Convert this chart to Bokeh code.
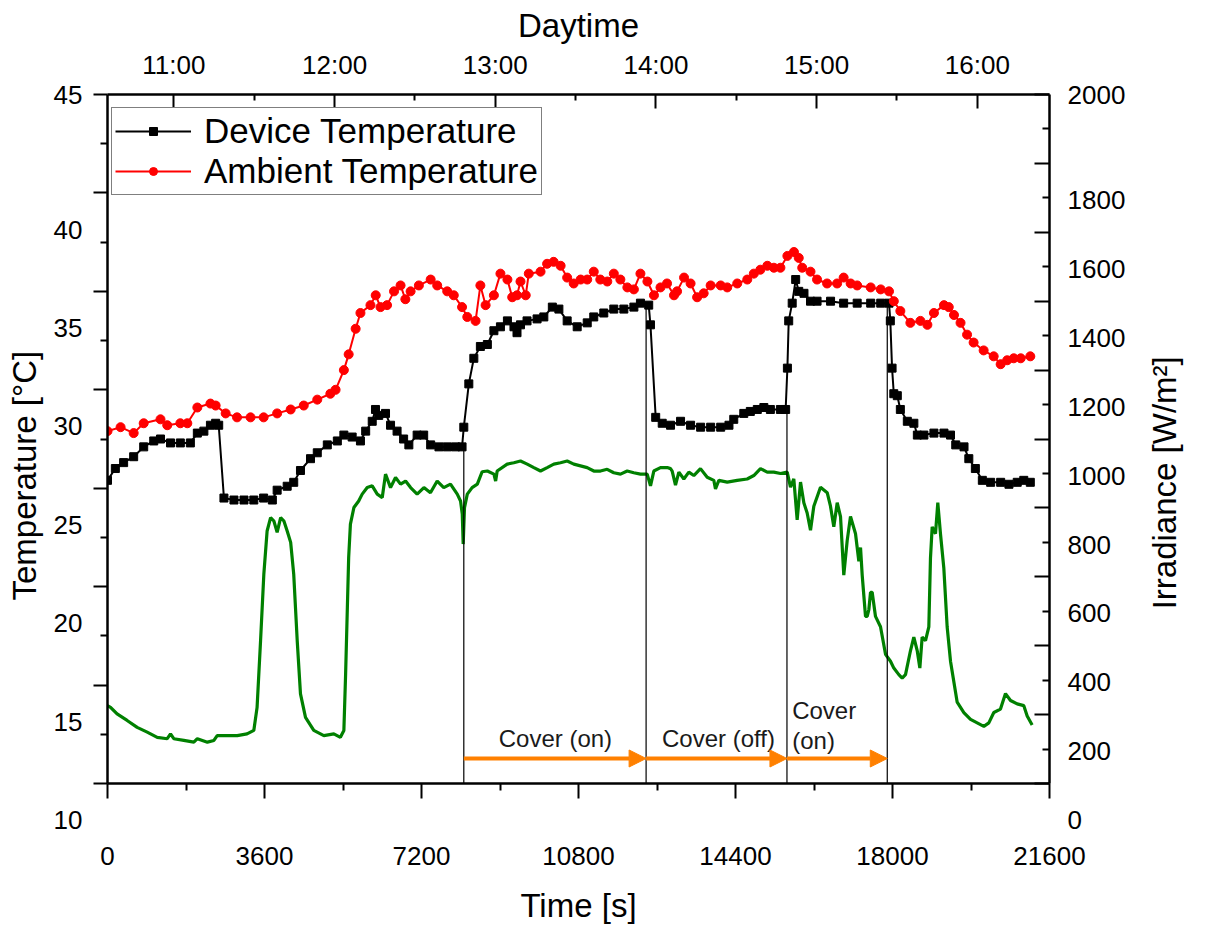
import math
from bokeh.plotting import figure
from bokeh.models import (Range1d, LinearAxis, FixedTicker, Legend, LegendItem,
                          Arrow, NormalHead)
from bokeh.core.properties import value
from bokeh.embed import file_html
from bokeh.resources import INLINE

# ---------------- data ----------------
dev_time = [0, 180, 370, 600, 830, 1060, 1215, 1445, 1670, 1900,
            2060, 2210, 2360, 2480, 2550, 2670, 2900, 3130, 3355, 3580,
            3780, 3890, 4120, 4270, 4425, 4655, 4810, 5040, 5270, 5420,
            5610, 5800, 5920, 6070, 6145, 6220, 6375, 6490, 6640, 6790,
            6910, 7100, 7250, 7410, 7600, 7790, 7980, 8130, 8170, 8285,
            8400, 8550, 8710, 8860, 9010, 9170, 9320, 9390, 9470, 9620,
            9850, 10005, 10200, 10350, 10540, 10770, 11000, 11150, 11380, 11610,
            11840, 12070, 12220, 12410, 12450, 12570, 12720, 12910, 13140, 13370,
            13600, 13830, 14060, 14250, 14360, 14590, 14740, 14900, 15050, 15200,
            15430, 15550, 15590, 15620, 15700, 15780, 15850, 15970, 16120, 16270,
            16580, 16880, 17190, 17500, 17730, 17920, 17950, 17990, 18030, 18110,
            18180, 18340, 18490, 18570, 18720, 18950, 19180, 19330, 19450, 19640,
            19750, 19900, 20060, 20250, 20480, 20670, 20860, 21010, 21160]
dev_temp = [25.4, 26.0, 26.3, 26.6, 27.1, 27.4, 27.5, 27.3, 27.3, 27.3,
            27.8, 27.9, 28.2, 28.3, 28.2, 24.5, 24.4, 24.4, 24.4, 24.5,
            24.4, 24.9, 25.1, 25.3, 25.9, 26.5, 26.8, 27.2, 27.4, 27.7,
            27.6, 27.4, 27.9, 28.4, 29.0, 28.7, 28.8, 28.2, 27.9, 27.5,
            27.2, 27.7, 27.7, 27.2, 27.1, 27.1, 27.1, 27.1, 28.1, 30.3,
            31.6, 32.2, 32.3, 33.0, 33.2, 33.5, 33.2, 32.9, 33.3, 33.5,
            33.6, 33.7, 34.2, 34.1, 33.5, 33.2, 33.4, 33.7, 33.9, 34.1,
            34.1, 34.2, 34.4, 34.3, 33.3, 28.6, 28.3, 28.2, 28.4, 28.2,
            28.1, 28.1, 28.1, 28.2, 28.5, 28.8, 28.9, 29.0, 29.1, 29.0,
            29.0, 29.0, 31.1, 33.5, 34.4, 35.6, 35.0, 34.9, 34.5, 34.5,
            34.5, 34.4, 34.4, 34.4, 34.4, 34.4, 33.5, 31.1, 29.8, 29.7,
            29.0, 28.4, 28.3, 27.7, 27.7, 27.8, 27.8, 27.7, 27.2, 27.1,
            26.5, 26.0, 25.4, 25.3, 25.3, 25.2, 25.3, 25.4, 25.3]

amb_time = [0, 300, 600, 830, 1215, 1370, 1670, 1830, 2060, 2360,
            2480, 2710, 2970, 3280, 3580, 3890, 4200, 4500, 4810, 5110,
            5230, 5420, 5530, 5690, 5800, 6030, 6150, 6260, 6410, 6570,
            6720, 6830, 6950, 7140, 7410, 7560, 7790, 7940, 8130, 8250,
            8440, 8550, 8670, 8860, 9010, 9170, 9280, 9390, 9470, 9590,
            9660, 9930, 10080, 10230, 10390, 10540, 10690, 10850, 11000, 11150,
            11300, 11460, 11610, 11760, 11920, 12070, 12220, 12380, 12530, 12680,
            12830, 12990, 13060, 13220, 13370, 13520, 13670, 13830, 14060, 14210,
            14440, 14670, 14820, 14970, 15130, 15280, 15430, 15590, 15740, 15850,
            15930, 16120, 16270, 16500, 16730, 16880, 17040, 17190, 17500, 17730,
            17920, 18030, 18180, 18410, 18640, 18800, 18950, 19180, 19290, 19410,
            19560, 19710, 19860, 20090, 20320, 20480, 20630, 20780, 20940, 21160]
amb_temp = [27.9, 28.1, 27.8, 28.3, 28.5, 28.2, 28.3, 28.3, 29.1, 29.3,
            29.2, 28.8, 28.6, 28.6, 28.6, 28.8, 29.0, 29.2, 29.5, 29.8,
            30.0, 31.0, 31.8, 33.1, 33.9, 34.3, 34.8, 34.2, 34.3, 35.0,
            35.3, 34.6, 35.0, 35.3, 35.6, 35.3, 35.0, 34.8, 34.2, 33.7,
            33.5, 35.3, 34.3, 34.8, 35.9, 35.6, 34.7, 34.8, 35.5, 34.8,
            35.9, 36.0, 36.4, 36.5, 36.3, 35.7, 35.4, 35.6, 35.6, 36.0,
            35.6, 35.5, 35.9, 35.6, 35.2, 35.1, 35.9, 35.5, 34.8, 35.2,
            35.4, 34.8, 35.0, 35.7, 35.4, 34.7, 34.9, 35.3, 35.3, 35.2,
            35.4, 35.6, 35.9, 36.1, 36.3, 36.2, 36.2, 36.8, 37.0, 36.7,
            36.2, 36.0, 35.6, 35.4, 35.4, 35.7, 35.4, 35.3, 35.2, 35.1,
            35.0, 34.5, 34.0, 33.4, 33.5, 33.3, 33.9, 34.3, 34.2, 33.8,
            33.4, 32.8, 32.4, 32.0, 31.7, 31.3, 31.5, 31.6, 31.6, 31.7]

irr_time = [0, 70, 220, 450, 680, 910, 1140, 1370, 1445, 1520,
            1750, 1980, 2060, 2290, 2440, 2515, 2745, 2975, 3200, 3355,
            3430, 3510, 3585, 3660, 3740, 3815, 3890, 3970, 4045, 4120,
            4200, 4270, 4350, 4425, 4540, 4730, 4960, 5190, 5340, 5420,
            5460, 5500, 5530, 5570, 5650, 5760, 5840, 5955, 6070, 6185,
            6300, 6375, 6490, 6605, 6720, 6835, 6950, 7100, 7255, 7405,
            7560, 7710, 7865, 8020, 8095, 8135, 8156, 8186, 8250, 8360,
            8480, 8590, 8710, 8860, 8900, 8935, 9165, 9317, 9470, 9624,
            9776, 9929, 10082, 10234, 10387, 10541, 10692, 10846, 10999, 11151,
            11304, 11458, 11609, 11763, 11917, 12068, 12222, 12375, 12451, 12527,
            12680, 12834, 12910, 12948, 13024, 13101, 13215, 13330, 13444, 13597,
            13751, 13903, 13941, 14018, 14210, 14439, 14668, 14820, 14973, 15127,
            15278, 15432, 15586, 15661, 15737, 15814, 15891, 15967, 16043, 16120,
            16196, 16349, 16503, 16578, 16654, 16732, 16808, 16883, 16961, 17037,
            17152, 17228, 17267, 17305, 17343, 17381, 17420, 17458, 17496, 17534,
            17610, 17725, 17840, 17954, 18030, 18145, 18222, 18298, 18413, 18489,
            18566, 18627, 18680, 18757, 18833, 18871, 18910, 18986, 19039, 19100,
            19177, 19253, 19330, 19483, 19636, 19789, 19942, 20094, 20209, 20323,
            20476, 20591, 20706, 20859, 21011, 21088, 21202]
irr_value = [226, 221, 202, 183, 163, 149, 134, 130, 144, 130,
             125, 120, 130, 120, 125, 139, 139, 139, 144, 154,
             221, 415, 608, 733, 772, 762, 729, 772, 762, 733,
             700, 608, 415, 260, 192, 154, 139, 144, 134, 154,
             318, 511, 656, 753, 801, 820, 840, 859, 864, 840,
             830, 898, 859, 888, 869, 878, 859, 840, 859, 844,
             878, 859, 869, 840, 820, 782, 695, 801, 840, 859,
             869, 905, 907, 898, 878, 907, 927, 931, 936, 927,
             917, 907, 917, 927, 931, 936, 927, 922, 917, 907,
             907, 912, 902, 898, 907, 902, 898, 898, 864, 907,
             917, 917, 914, 907, 866, 904, 884, 904, 894, 914,
             889, 880, 855, 880, 875, 880, 884, 894, 914, 904,
             904, 900, 904, 860, 884, 765, 875, 815, 785, 735,
             805, 860, 844, 805, 745, 815, 775, 605, 705, 775,
             725, 645, 685, 605, 545, 485, 485, 505, 555, 555,
             485, 455, 375, 355, 335, 316, 306, 316, 386, 425,
             386, 335, 425, 415, 455, 655, 745, 725, 815, 725,
             625, 455, 355, 236, 206, 186, 176, 166, 176, 206,
             216, 261, 241, 231, 226, 196, 170]

# cover events: switching times and device temperature where the marker line starts
cover_times = [8170, 12350, 15580, 17880]
cover_line_tops = [27.1, 34.4, 29.0, 34.5]
arrow_level = 11.27
cover_text_x = [10270, 14010]
cover_text_y = [12.3, 12.3]
cover_texts = ["Cover (on)", "Cover (off)"]
cover2_text_x = [15700, 15700]
cover2_text_y = [13.7, 12.2]
cover2_texts = ["Cover", "(on)"]

# axes
time_ticks = [0, 3600, 7200, 10800, 14400, 18000, 21600]
time_minor = [1800, 5400, 9000, 12600, 16200, 19800]
temp_ticks = [10, 15, 20, 25, 30, 35, 40, 45]
temp_minor = [12.5, 17.5, 22.5, 27.5, 32.5, 37.5, 42.5]
temp_tick_labels = ["10", "15", "20", "25", "30", "35", "40", "45"]
irr_ticks = [0, 200, 400, 600, 800, 1000, 1200, 1400, 1600, 1800, 2000]
irr_minor = [100, 300, 500, 700, 900, 1100, 1300, 1500, 1700, 1900]
irr_tick_labels = ["0", "200", "400", "600", "800", "1000", "1200", "1400", "1600", "1800", "2000"]
day_hours = [11, 12, 13, 14, 15, 16]
day_half = [11.5, 12.5, 13.5, 14.5, 15.5]
day_labels = ["11:00", "12:00", "13:00", "14:00", "15:00", "16:00"]
day_start, day_end = 10.587, 16.449

FONT = "Liberation Sans"
TICK_FS = "26px"
TITLE_FS = "33px"
ORANGE = "#ff8000"
SHIFT_LINE_HEIGHT = 1.22   # the reference prints its side tick labels below their ticks
NBSP = "\u00a0"            # padding: the reference's side titles sit below the frame centre


def shifted(labels):
    # all but the top label are drawn lower than their ticks, as in the reference
    return {i: ("\n\n" + s if k < len(labels) - 1 else s) for k, (i, s) in enumerate(labels)}


p = figure(width=1206, height=926, output_backend="svg", toolbar_location=None,
           x_range=Range1d(0, 21600), y_range=Range1d(10, 45),
           min_border_left=107, min_border_right=157, min_border_top=94, min_border_bottom=143)
p.extra_y_ranges = {"irr": Range1d(0, 2000)}
p.extra_x_ranges = {"day": Range1d(day_start, day_end)}
p.grid.visible = False
p.outline_line_color = None
p.background_fill_color = "white"
p.border_fill_color = "white"


def style_axis(ax):
    ax.axis_line_color = "black"
    ax.axis_line_width = 2.5
    ax.major_tick_line_color = "black"
    ax.major_tick_line_width = 2
    ax.minor_tick_line_color = "black"
    ax.minor_tick_line_width = 2
    ax.major_label_text_font = FONT
    ax.major_label_text_font_size = TICK_FS
    ax.major_label_text_color = "black"
    ax.axis_label_text_font = FONT
    ax.axis_label_text_font_size = TITLE_FS
    ax.axis_label_text_font_style = "normal"
    ax.axis_label_text_color = "black"


xa = p.xaxis[0]
style_axis(xa)
xa.ticker = FixedTicker(ticks=time_ticks, minor_ticks=time_minor)
xa.axis_label = "Time [s]"
xa.major_tick_in, xa.major_tick_out = 0, 15
xa.minor_tick_in, xa.minor_tick_out = 0, 7
xa.major_label_standoff = 48
xa.axis_label_standoff = 19

ya = p.yaxis[0]
style_axis(ya)
ya.ticker = FixedTicker(ticks=temp_ticks, minor_ticks=temp_minor)
ya.axis_label = "Temperature [°C]" + NBSP * 8
ya.major_tick_in, ya.major_tick_out = 0, 14
ya.minor_tick_in, ya.minor_tick_out = 0, 7
ya.major_label_standoff = 11
ya.major_label_overrides = shifted(list(zip(temp_ticks, temp_tick_labels)))
ya.major_label_text_line_height = SHIFT_LINE_HEIGHT
ya.axis_label_standoff = 8

ra = LinearAxis(y_range_name="irr",
                ticker=FixedTicker(ticks=irr_ticks, minor_ticks=irr_minor))
style_axis(ra)
ra.major_tick_in, ra.major_tick_out = 15, 0
ra.minor_tick_in, ra.minor_tick_out = 7, 0
ra.major_label_standoff = 18
ra.major_label_overrides = shifted(list(zip(irr_ticks, irr_tick_labels)))
ra.major_label_text_line_height = SHIFT_LINE_HEIGHT
ra.axis_label_standoff = 36
props = ra.properties()
if "axis_label_orientation" in props:
    ra.axis_label_orientation = math.pi / 2
if "axis_label_align" in props:
    # text starts at the lower end of the axis; the padding lifts it to where the reference has it
    ra.axis_label_align = "start"
    ra.axis_label = NBSP * 19 + "Irradiance [W/m²]"
else:
    ra.axis_label = "Irradiance [W/m²]"
p.add_layout(ra, "right")

ta = LinearAxis(x_range_name="day", axis_label="Daytime",
                ticker=FixedTicker(ticks=day_hours, minor_ticks=day_half),
                major_label_overrides=dict(zip(day_hours, day_labels)))
style_axis(ta)
ta.major_tick_in, ta.major_tick_out = 14, 0
ta.minor_tick_in, ta.minor_tick_out = 6, 0
ta.major_label_standoff = 15
ta.axis_label_standoff = 3
p.add_layout(ta, "above")

# ---------------- glyphs ----------------
p.line(irr_time, irr_value, y_range_name="irr", line_color="#008000", line_width=3.2)
dev_line = p.line(dev_time, dev_temp, line_color="black", line_width=2)
dev_pts = p.scatter(dev_time, dev_temp, marker="square", size=8, color="black")
amb_line = p.line(amb_time, amb_temp, line_color="#ff0000", line_width=2)
amb_pts = p.scatter(amb_time, amb_temp, marker="circle", size=9, color="#ff0000")

p.segment(x0=cover_times, y0=cover_line_tops, x1=cover_times,
          y1=[temp_ticks[0]] * len(cover_times), line_color="black", line_width=1.2)

for i in range(len(cover_times) - 1):
    p.add_layout(Arrow(end=NormalHead(size=17, fill_color=ORANGE, line_color=ORANGE),
                       x_start=cover_times[i], y_start=arrow_level,
                       x_end=cover_times[i + 1], y_end=arrow_level,
                       line_color=ORANGE, line_width=4))

p.text(x=cover_text_x, y=cover_text_y, text=cover_texts, text_align="center",
       text_baseline="middle", text_font=value(FONT), text_font_size="24px",
       text_color="#1a1a1a")
p.text(x=cover2_text_x, y=cover2_text_y, text=cover2_texts, text_align="left",
       text_baseline="middle", text_font=value(FONT), text_font_size="24px",
       text_color="#1a1a1a")

legend = Legend(items=[LegendItem(label="Device Temperature", renderers=[dev_line, dev_pts]),
                       LegendItem(label="Ambient Temperature", renderers=[amb_line, amb_pts])],
                location=(4, 588), margin=0, padding=3, spacing=0,
                glyph_width=76, glyph_height=20, label_standoff=13,
                label_text_font=FONT, label_text_font_size="35px", label_height=38,
                label_text_color="black",
                border_line_color="black", border_line_width=1,
                background_fill_color="white", background_fill_alpha=1)
p.add_layout(legend)

open("out.html", "w").write(file_html(p, INLINE, "chart"))
